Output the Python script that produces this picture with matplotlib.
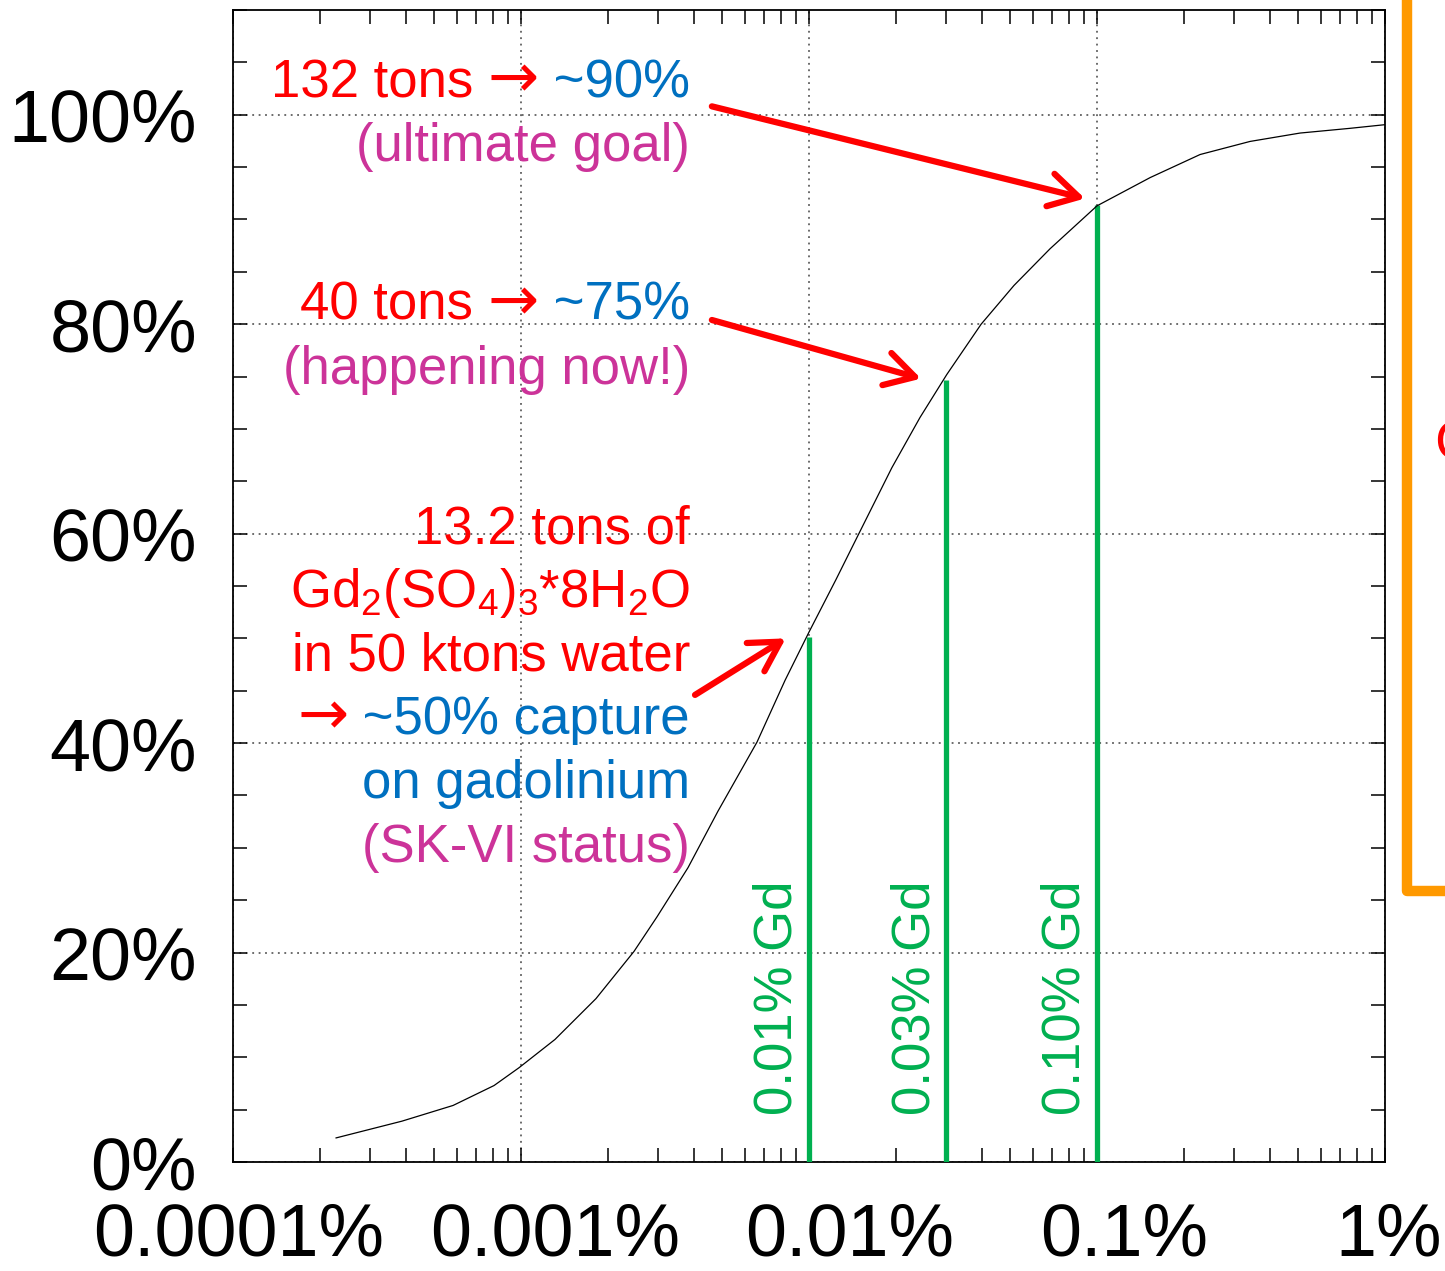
import matplotlib
matplotlib.use("Agg")
import matplotlib.pyplot as plt
from matplotlib.lines import Line2D
from matplotlib.ticker import FixedLocator, LogLocator, MultipleLocator, NullFormatter
from matplotlib.transforms import Affine2D

plt.rcParams["font.family"] = ["Liberation Sans", "DejaVu Sans"]
plt.rcParams["mathtext.fontset"] = "custom"
plt.rcParams["mathtext.rm"] = "Liberation Sans"
plt.rcParams["mathtext.default"] = "regular"

# Gd concentration in water (%) vs fraction of neutron captures on Gd (%)
conc_pct = [0.000228, 0.000386, 0.000581, 0.000806, 0.000984, 0.001312,
            0.001821, 0.002467, 0.002965, 0.0038, 0.00483, 0.0066, 0.00826,
            0.01, 0.0124, 0.0149, 0.0194, 0.0243, 0.0301, 0.0396, 0.0515,
            0.0687, 0.1, 0.153, 0.228, 0.34, 0.507, 0.755, 1.0]
capture_pct = [2.3, 3.9, 5.4, 7.3, 9.0, 11.7, 15.6, 20.1, 23.4, 28.1, 33.5,
               40.1, 46.0, 50.6, 55.6, 60.0, 66.3, 71.1, 75.2, 80.0, 83.7,
               87.2, 91.3, 94.0, 96.2, 97.45, 98.25, 98.7, 99.05]

# loading stages
gd_conc = [0.01, 0.03, 0.1]
gd_capture = [50.1, 74.7, 91.4]
gd_labels = ["0.01% Gd", "0.03% Gd", "0.10% Gd"]

x_ticks = [1e-4, 1e-3, 1e-2, 1e-1, 1]
x_labels = ["0.0001%", "0.001%", "0.01%", "0.1%", "1%"]
y_ticks = [0, 20, 40, 60, 80, 100]
y_labels = ["0%", "20%", "40%", "60%", "80%", "100%"]

RED = "#FF0000"
BLUE = "#0070C0"
MAGENTA = "#CC3399"
GREEN = "#00B050"
ORANGE = "#FF9900"
ARROW = "→"

# annotation blocks: list of lines, each line a list of (text, colour)
note_90 = [[("132 tons ", RED), (ARROW, RED), (" ~90%", BLUE)],
           [("(ultimate goal)", MAGENTA)]]
note_75 = [[("40 tons ", RED), (ARROW, RED), (" ~75%", BLUE)],
           [("(happening now!)", MAGENTA)]]
note_50 = [[("13.2 tons of", RED)],
           [("Gd$_2$(SO$_4$)$_3$*8H$_2$O", RED)],
           [("in 50 ktons water", RED)],
           [(ARROW, RED), (" ~50% capture", BLUE)],
           [("on gadolinium", BLUE)],
           [("(SK-VI status)", MAGENTA)]]

W, H = 1445, 1271
fig = plt.figure(figsize=(W / 100, H / 100), dpi=100)
ax = fig.add_axes([233 / W, 1 - 1162 / H, (1385 - 233) / W, (1162 - 10) / H])
# transform in reference-picture pixels (origin top-left)
ref = Affine2D().scale(1 / W, -1 / H).translate(0, 1) + fig.transFigure

ax.plot(conc_pct, capture_pct, color="black", lw=0.9, zorder=4)
ax.vlines(gd_conc, 0, gd_capture, color=GREEN, lw=3.8, zorder=3)
for c, lab in zip(gd_conc, gd_labels):
    ax.annotate(lab, xy=(c, 0), xytext=(-6, 47), textcoords="offset pixels",
                rotation=90, ha="right", va="bottom", color=GREEN, fontsize=38)

ax.set_xscale("log")
ax.set_xlim(1e-4, 1)
ax.set_ylim(0, 110)
ax.xaxis.set_major_locator(FixedLocator(x_ticks))
ax.xaxis.set_major_formatter(NullFormatter())
ax.xaxis.set_minor_locator(LogLocator(base=10, subs=range(2, 10)))
ax.xaxis.set_minor_formatter(NullFormatter())
ax.set_yticks(y_ticks)
ax.set_yticklabels(y_labels, fontsize=53)
ax.yaxis.set_minor_locator(MultipleLocator(5))
ax.tick_params(which="both", direction="in", top=True, right=True,
               length=10, width=1.1)
ax.tick_params(axis="y", which="major", pad=26)
ax.grid(True, which="major", linestyle=(0, (1.2, 3)), color="#444444", lw=1.1)
for s in ax.spines.values():
    s.set_linewidth(1.3)

# x labels were placed by hand on the slide, slightly right of their ticks
x_label_shift = [6, 34, 41, 27, 4]
for t, lab, dx in zip(x_ticks, x_labels, x_label_shift):
    ax.annotate(lab, xy=(t, 0), xycoords=("data", "axes fraction"),
                xytext=(dx, -94), textcoords="offset pixels", ha="center",
                va="baseline", fontsize=53, annotation_clip=False)


def draw_note(lines, right_px, first_base_px, step_px=64):
    for i, segs in enumerate(lines):
        base = first_base_px + i * step_px
        prev = None
        for txt, col in reversed(segs):
            fam = ["DejaVu Sans"] if txt == ARROW else None
            size = 44 if txt == ARROW else 38
            if prev is None:
                prev = ax.text(right_px, base, txt, transform=ref, ha="right",
                               va="baseline", color=col, fontsize=size,
                               family=fam)
            else:
                prev = ax.annotate(txt, xy=(0, base), xycoords=(prev, ref),
                                   ha="right", va="baseline", color=col,
                                   fontsize=size, family=fam)


draw_note(note_90, 690, 97)
draw_note(note_75, 690, 320)
draw_note(note_50, 690, 543, 63.8)

arrow_kw = dict(arrowstyle="->,head_length=0.7,head_width=0.4",
                color=RED, lw=4.5, mutation_scale=30, shrinkA=0, shrinkB=0)
ax.annotate("", xy=(0.0908, 92.0), xytext=(0.0046, 100.8), arrowprops=arrow_kw)
ax.annotate("", xy=(0.0245, 74.8), xytext=(0.0046, 80.4), arrowprops=arrow_kw)
ax.annotate("", xy=(0.0083, 50.0), xytext=(0.00402, 44.6), arrowprops=arrow_kw)

# cropped slide decoration on the right
fig.add_artist(Line2D([1407, 1407, 1460], [-20, 891, 891], transform=ref,
                      color=ORANGE, lw=7.5, solid_joinstyle="round",
                      solid_capstyle="round"))
fig.text(1434 / W, 1 - 445 / H, "C", color=RED, fontsize=40,
         ha="left", va="center")

fig.savefig("out.png", dpi=100)
